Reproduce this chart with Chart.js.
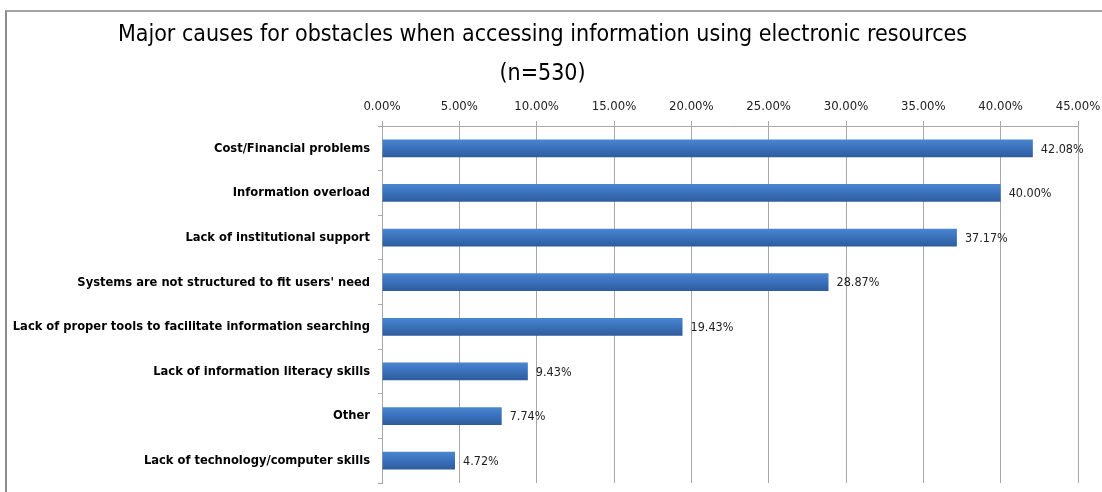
<!DOCTYPE html>
<html>
<head>
<meta charset="utf-8">
<script src="https://cdn.jsdelivr.net/npm/chart.js@4"></script>
<style>
  html, body { margin: 0; padding: 0; background: #fff; width: 1102px; height: 492px; overflow: hidden; }
  #wrap { position: absolute; left: 5px; top: 10px; width: 1097px; height: 482px;
          border-top: 2px solid #a4a4a4; border-left: 2px solid #8c8c8c; box-sizing: border-box; }
  #c { display: block; }
</style>
</head>
<body>
<div id="wrap"><canvas id="c" width="1095" height="480"></canvas></div>
<script>
const titleLines = ["Major causes for obstacles when accessing information using electronic resources", "(n=530)"];
const categories = [
  "Cost/Financial problems",
  "Information overload",
  "Lack of institutional support",
  "Systems are not structured to fit users' need",
  "Lack of proper tools to facilitate information searching",
  "Lack of information literacy skills",
  "Other",
  "Lack of technology/computer skills"
];
const percentages = [42.08, 40.00, 37.17, 28.87, 19.43, 9.43, 7.74, 4.72];
const axisMin = 0, axisMax = 45, axisStep = 5;

const labelFont = "'DejaVu Sans Condensed', 'Liberation Sans Narrow', Lato, sans-serif";

const valueLabels = {
  id: 'valueLabels',
  afterDatasetsDraw(chart) {
    const ctx = chart.ctx;
    const meta = chart.getDatasetMeta(0);
    ctx.save();
    ctx.font = "12.5px " + labelFont;
    ctx.fillStyle = '#222';
    ctx.textAlign = 'left';
    ctx.textBaseline = 'middle';
    meta.data.forEach((bar, i) => {
      ctx.fillText(percentages[i].toFixed(2) + '%', bar.x + 8, bar.y + 1);
    });
    ctx.restore();
  }
};

new Chart(document.getElementById('c'), {
  type: 'bar',
  data: {
    labels: categories,
    datasets: [{
      data: percentages,
      backgroundColor: (c) => {
        const chart = c.chart;
        const ys = chart.scales && chart.scales.y;
        if (!ys || c.dataIndex === undefined) return '#3a6db3';
        const yc = ys.getPixelForValue(c.dataIndex);
        if (!isFinite(yc)) return '#3a6db3';
        const g = chart.ctx.createLinearGradient(0, yc - 9, 0, yc + 9);
        g.addColorStop(0, '#4a86d1');
        g.addColorStop(0.5, '#3a70ba');
        g.addColorStop(1, '#2d5c9c');
        return g;
      },
      borderWidth: 0,
      barPercentage: 0.8,
      categoryPercentage: 0.5
    }]
  },
  options: {
    indexAxis: 'y',
    responsive: false,
    animation: false,
    devicePixelRatio: 1,
    layout: { padding: { left: 0, right: 24, top: 0, bottom: 9 } },
    plugins: {
      legend: { display: false },
      tooltip: { enabled: false },
      title: {
        display: true,
        text: titleLines,
        color: '#000',
        font: { family: "'DejaVu Sans Condensed', 'Liberation Sans Narrow', sans-serif", size: 23, weight: 'normal', lineHeight: 1.7 },
        padding: { top: 3, bottom: 0 }
      }
    },
    scales: {
      x: {
        position: 'top',
        min: axisMin,
        max: axisMax,
        ticks: {
          stepSize: axisStep,
          color: '#222',
          font: { family: labelFont, size: 13 },
          padding: 7,
          callback: (v) => Number(v).toFixed(2) + '%'
        },
        grid: { color: '#a8a8a8', lineWidth: 1, tickLength: 5, drawTicks: true },
        border: { color: '#a8a8a8' },
        afterFit: (s) => { s.height = 32.8; s.paddingLeft = 0; s.paddingRight = 0; }
      },
      y: {
        ticks: {
          color: '#000',
          font: { family: labelFont, size: 12.8, weight: 'bold' },
          padding: 8
        },
        grid: { display: true, drawOnChartArea: false, offset: true, tickLength: 4, color: '#a8a8a8' },
        border: { color: '#a8a8a8' },
        afterFit: (s) => { s.width = 375; s.paddingTop = 0; s.paddingBottom = 0; }
      }
    }
  },
  plugins: [valueLabels]
});
</script>
</body>
</html>
